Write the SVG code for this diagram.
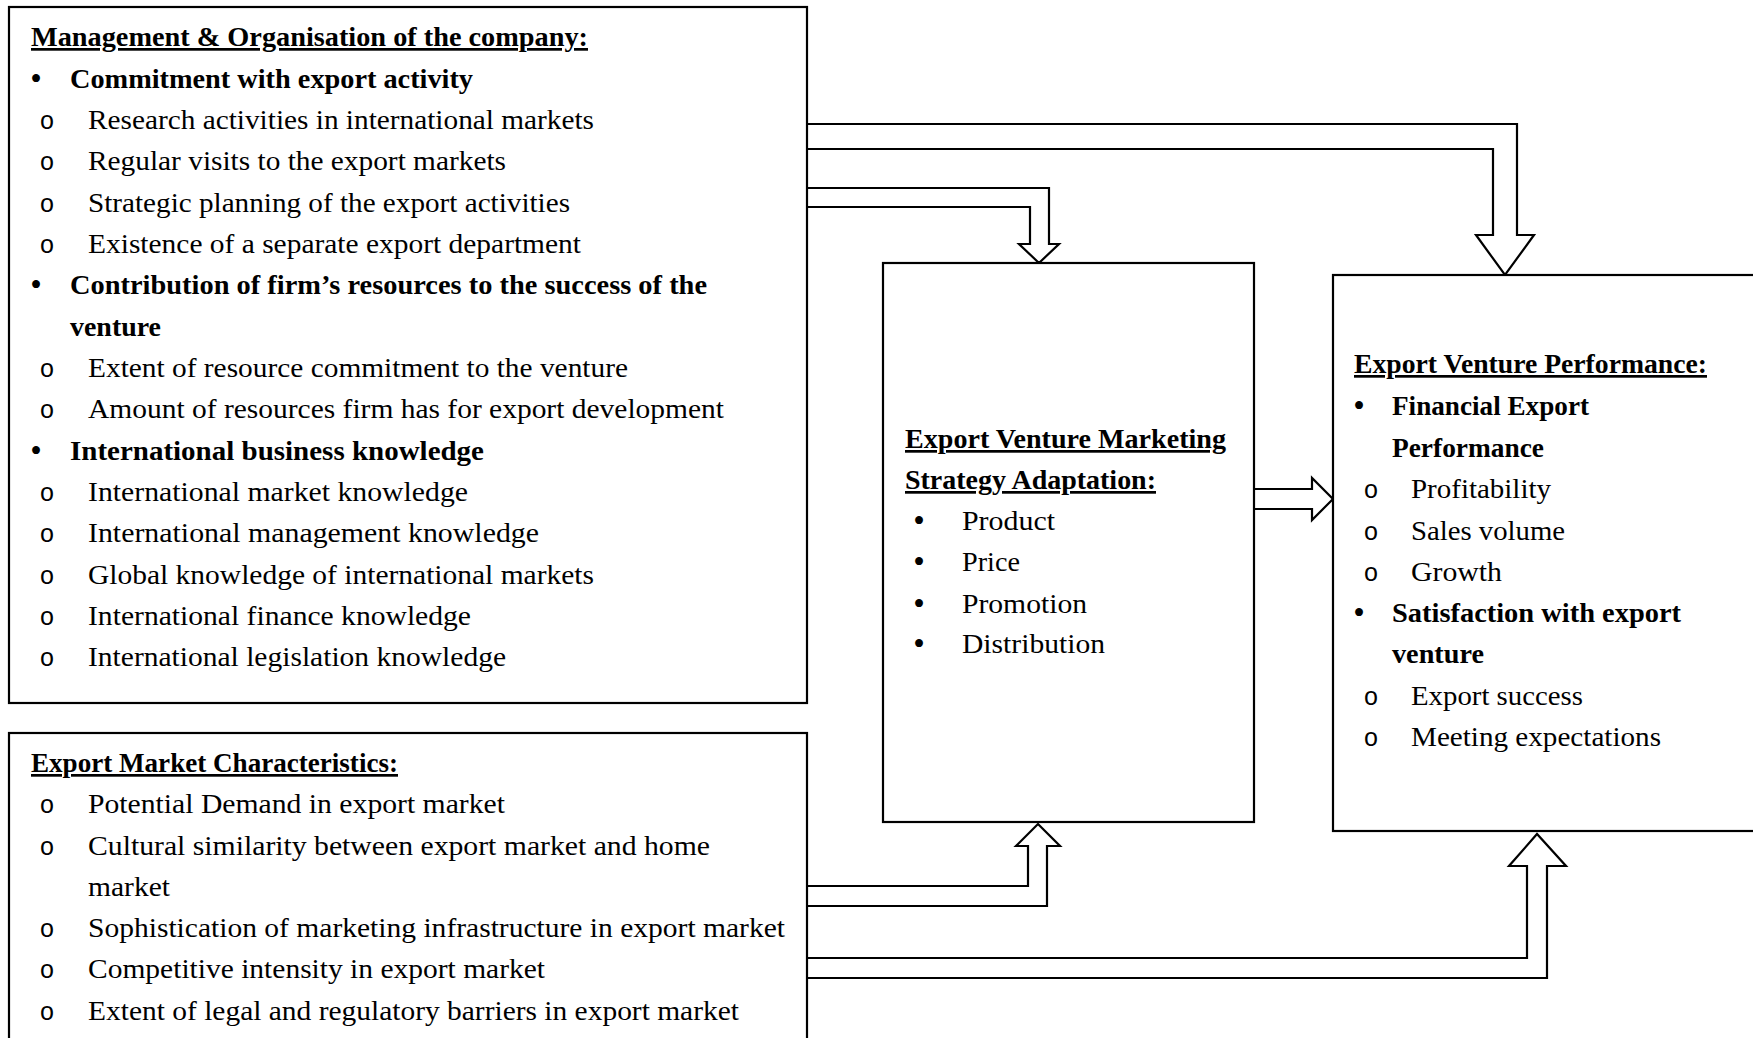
<svg xmlns="http://www.w3.org/2000/svg" width="1753" height="1038" viewBox="0 0 1753 1038">
<style>
.box{fill:#fff;stroke:#000;stroke-width:2.2}
.arr{fill:#fff;stroke:#000;stroke-width:2.2;stroke-linejoin:miter}
text{font-family:"Liberation Serif","Times New Roman",serif;font-size:27px;fill:#000}
.b{font-weight:bold}
.h{font-weight:bold;text-decoration:underline}
.o{font-family:"Liberation Mono","Courier New",monospace;font-size:25px;text-anchor:middle}
.d{text-anchor:middle;font-size:33px}
</style>
<rect width="1753" height="1038" fill="#fff"/>
<g id="connectors">
<path class="arr" d="M807,124 H1517 V235 H1534 L1505,275 L1476,235 H1493 V149 H807"/>
<path class="arr" d="M807,188 H1049 V244 H1059 L1039,263 L1019,244 H1030 V207 H807"/>
<path class="arr" d="M1254,489 H1312 V478 L1333,499 L1312,520 V509 H1254"/>
<path class="arr" d="M807,886 H1028 V846 H1016 L1038,824 L1060,846 H1047 V906 H807"/>
<path class="arr" d="M807,958 H1527 V866 H1509 L1537,834 L1566,866 H1547 V978 H807"/>
</g>
<g id="management">
<rect class="box" x="9" y="7" width="798" height="696"/>
<text class="h" x="31" y="46" textLength="557" lengthAdjust="spacingAndGlyphs">Management &amp; Organisation of the company:</text>
<text class="d" x="36" y="90">•</text><text class="b" x="70" y="88" textLength="403" lengthAdjust="spacingAndGlyphs">Commitment with export activity</text>
<text class="o" x="47" y="129">o</text><text x="88" y="129" textLength="506" lengthAdjust="spacingAndGlyphs">Research activities in international markets</text>
<text class="o" x="47" y="170">o</text><text x="88" y="170" textLength="418" lengthAdjust="spacingAndGlyphs">Regular visits to the export markets</text>
<text class="o" x="47" y="212">o</text><text x="88" y="212" textLength="482" lengthAdjust="spacingAndGlyphs">Strategic planning of the export activities</text>
<text class="o" x="47" y="253">o</text><text x="88" y="253" textLength="493" lengthAdjust="spacingAndGlyphs">Existence of a separate export department</text>
<text class="d" x="36" y="296">•</text><text class="b" x="70" y="294" textLength="637" lengthAdjust="spacingAndGlyphs">Contribution of firm’s resources to the success of the</text>
<text class="b" x="70" y="336" textLength="91" lengthAdjust="spacingAndGlyphs">venture</text>
<text class="o" x="47" y="377">o</text><text x="88" y="377" textLength="540" lengthAdjust="spacingAndGlyphs">Extent of resource commitment to the venture</text>
<text class="o" x="47" y="418">o</text><text x="88" y="418" textLength="636" lengthAdjust="spacingAndGlyphs">Amount of resources firm has for export development</text>
<text class="d" x="36" y="462">•</text><text class="b" x="70" y="460" textLength="414" lengthAdjust="spacingAndGlyphs">International business knowledge</text>
<text class="o" x="47" y="501">o</text><text x="88" y="501" textLength="380" lengthAdjust="spacingAndGlyphs">International market knowledge</text>
<text class="o" x="47" y="542">o</text><text x="88" y="542" textLength="451" lengthAdjust="spacingAndGlyphs">International management knowledge</text>
<text class="o" x="47" y="584">o</text><text x="88" y="584" textLength="506" lengthAdjust="spacingAndGlyphs">Global knowledge of international markets</text>
<text class="o" x="47" y="625">o</text><text x="88" y="625" textLength="383" lengthAdjust="spacingAndGlyphs">International finance knowledge</text>
<text class="o" x="47" y="666">o</text><text x="88" y="666" textLength="418" lengthAdjust="spacingAndGlyphs">International legislation knowledge</text>
</g>
<g id="market">
<rect class="box" x="9" y="733" width="798" height="320"/>
<text class="h" x="31" y="772" textLength="367" lengthAdjust="spacingAndGlyphs">Export Market Characteristics:</text>
<text class="o" x="47" y="813">o</text><text x="88" y="813" textLength="417" lengthAdjust="spacingAndGlyphs">Potential Demand in export market</text>
<text class="o" x="47" y="855">o</text><text x="88" y="855" textLength="622" lengthAdjust="spacingAndGlyphs">Cultural similarity between export market and home</text>
<text x="88" y="896" textLength="82" lengthAdjust="spacingAndGlyphs">market</text>
<text class="o" x="47" y="937">o</text><text x="88" y="937" textLength="697" lengthAdjust="spacingAndGlyphs">Sophistication of marketing infrastructure in export market</text>
<text class="o" x="47" y="978">o</text><text x="88" y="978" textLength="457" lengthAdjust="spacingAndGlyphs">Competitive intensity in export market</text>
<text class="o" x="47" y="1020">o</text><text x="88" y="1020" textLength="651" lengthAdjust="spacingAndGlyphs">Extent of legal and regulatory barriers in export market</text>
</g>
<g id="strategy">
<rect class="box" x="883" y="263" width="371" height="559"/>
<text class="h" x="905" y="448" textLength="321" lengthAdjust="spacingAndGlyphs">Export Venture Marketing</text>
<text class="h" x="905" y="489" textLength="251" lengthAdjust="spacingAndGlyphs">Strategy Adaptation:</text>
<text class="d" x="919" y="532">•</text><text x="962" y="530" textLength="93" lengthAdjust="spacingAndGlyphs">Product</text>
<text class="d" x="919" y="573">•</text><text x="962" y="571" textLength="58" lengthAdjust="spacingAndGlyphs">Price</text>
<text class="d" x="919" y="615">•</text><text x="962" y="613" textLength="125" lengthAdjust="spacingAndGlyphs">Promotion</text>
<text class="d" x="919" y="655">•</text><text x="962" y="653" textLength="143" lengthAdjust="spacingAndGlyphs">Distribution</text>
</g>
<g id="performance">
<rect class="box" x="1333" y="275" width="440" height="556"/>
<text class="h" x="1354" y="373" textLength="353" lengthAdjust="spacingAndGlyphs">Export Venture Performance:</text>
<text class="d" x="1359" y="417">•</text><text class="b" x="1392" y="415" textLength="197" lengthAdjust="spacingAndGlyphs">Financial Export</text>
<text class="b" x="1392" y="457" textLength="152" lengthAdjust="spacingAndGlyphs">Performance</text>
<text class="o" x="1371" y="498">o</text><text x="1411" y="498" textLength="140" lengthAdjust="spacingAndGlyphs">Profitability</text>
<text class="o" x="1371" y="540">o</text><text x="1411" y="540" textLength="154" lengthAdjust="spacingAndGlyphs">Sales volume</text>
<text class="o" x="1371" y="581">o</text><text x="1411" y="581" textLength="91" lengthAdjust="spacingAndGlyphs">Growth</text>
<text class="d" x="1359" y="624">•</text><text class="b" x="1392" y="622" textLength="289" lengthAdjust="spacingAndGlyphs">Satisfaction with export</text>
<text class="b" x="1392" y="663" textLength="92" lengthAdjust="spacingAndGlyphs">venture</text>
<text class="o" x="1371" y="705">o</text><text x="1411" y="705" textLength="172" lengthAdjust="spacingAndGlyphs">Export success</text>
<text class="o" x="1371" y="746">o</text><text x="1411" y="746" textLength="250" lengthAdjust="spacingAndGlyphs">Meeting expectations</text>
</g>
</svg>
